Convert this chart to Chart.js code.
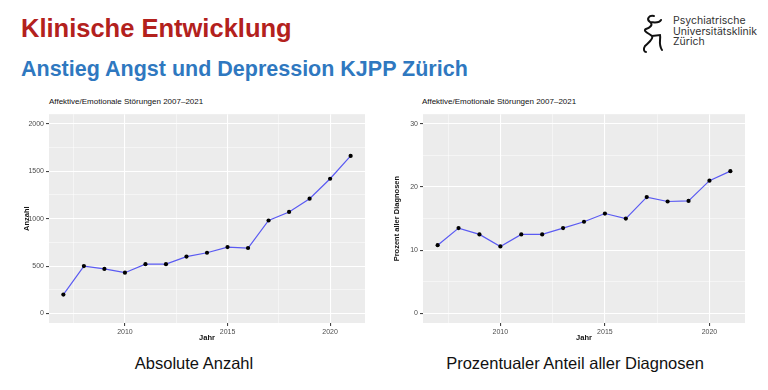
<!DOCTYPE html>
<html>
<head>
<meta charset="utf-8">
<script src="https://cdn.jsdelivr.net/npm/chart.js@4"></script>
<style>
  html, body { margin: 0; padding: 0; background: #fff; }
  body { width: 768px; height: 390px; position: relative; overflow: hidden; font-family: "Liberation Sans", Arial, sans-serif; }
  .abs { position: absolute; white-space: nowrap; }
  #title { left: 21px; top: 14px; font-size: 25.5px; font-weight: bold; color: #b3211d; }
  #subtitle { left: 21px; top: 57px; font-size: 21.5px; font-weight: bold; color: #2f78c0; }
  #logoText { left: 673px; top: 16px; font-size: 10.5px; line-height: 10.5px; color: #333; font-family: "Inter", "Liberation Sans", sans-serif; }
  .ptitle { font-size: 8px; color: #111; top: 97px; }
  .caption { font-size: 16.5px; color: #111; top: 354px; transform: translateX(-50%); }
  .box { position: absolute; }
</style>
</head>
<body>
<div class="abs" id="title">Klinische Entwicklung</div>
<div class="abs" id="subtitle">Anstieg Angst und Depression KJPP Zürich</div>
<svg class="abs" style="left:640px;top:14px" width="26" height="40" viewBox="0 0 26 40">
  <path d="M14 2 C9 1 6 5 10 8 C14 11 9 14 6 15 C2 17 10 20 12 22 C14 25 8 29 5 32 C3 35 4 38 6 38 M10 8 C16 9 20 8 21 6 M12 22 L20 21 C21 25 18 30 22 36" fill="none" stroke="#111" stroke-width="2" stroke-linecap="round"/>
</svg>
<div class="abs" id="logoText">Psychiatrische<br>Universitätsklinik<br>Zürich</div>

<div class="abs ptitle" style="left:49px">Affektive/Emotionale Störungen 2007–2021</div>
<div class="abs ptitle" style="left:422px">Affektive/Emotionale Störungen 2007–2021</div>

<div class="box" style="left:20px;top:108px;width:350px;height:234px"><canvas id="chartCount"></canvas></div>
<div class="box" style="left:390px;top:108px;width:365px;height:234px"><canvas id="chartPercent"></canvas></div>

<div class="abs caption" style="left:194px">Absolute Anzahl</div>
<div class="abs caption" style="left:575px">Prozentualer Anteil aller Diagnosen</div>

<script>
const years = [2007, 2008, 2009, 2010, 2011, 2012, 2013, 2014, 2015, 2016, 2017, 2018, 2019, 2020, 2021]
const counts = [200, 500, 470, 430, 520, 520, 600, 640, 700, 690, 980, 1070, 1210, 1420, 1660]
const percents = [10.8, 13.5, 12.5, 10.6, 12.5, 12.5, 13.5, 14.5, 15.8, 15.0, 18.4, 17.7, 17.8, 21.0, 22.5]

const yearTicks = [2010, 2015, 2020]
const yearMinor = [2007.5, 2012.5, 2017.5]
const countTicks = [0, 500, 1000, 1500, 2000]
const countMinor = [250, 750, 1250, 1750]
const percentTicks = [0, 10, 20, 30]
const percentMinor = [5, 15, 25]

const panelBg = {
  id: "panelBg",
  beforeDraw(chart) {
    const { ctx, chartArea: a } = chart
    ctx.save()
    ctx.fillStyle = "#ececec"
    ctx.fillRect(a.left, a.top, a.right - a.left, a.bottom - a.top)
    ctx.restore()
  }
}

function makeChart(id, values, major, minor, yMin, yMax, yTitle, yWidth, rightPad) {
  const isMajor = (ctx) => ctx.tick && !ctx.tick.minor
  const axis = (majorTicks, minorTicks) => ({
    afterBuildTicks(scale) {
      const all = majorTicks.map(v => ({ value: v, minor: false }))
        .concat(minorTicks.map(v => ({ value: v, minor: true })))
      scale.ticks = all.sort((a, b) => a.value - b.value)
    },
    border: { display: false },
    grid: {
      color: "#ffffff",
      lineWidth: (ctx) => isMajor(ctx) ? 1.1 : 0.5,
      tickColor: (ctx) => isMajor(ctx) ? "#444" : "rgba(0,0,0,0)",
      tickLength: 3
    },
    ticks: {
      autoSkip: false,
      maxRotation: 0,
      padding: 2,
      color: "#4d4d4d",
      font: { family: "Liberation Sans", size: 7 },
      callback: function(v, i, ticks) { return ticks[i].minor ? "" : String(v) }
    }
  })

  const x = axis(yearTicks, yearMinor)
  x.type = "linear"
  x.min = 2006.3
  x.max = 2021.7
  x.title = { display: true, text: "Jahr", color: "#111", font: { family: "Liberation Sans", size: 7.5, weight: "bold" }, padding: 0 }
  x.afterFit = (scale) => { scale.height = 19 }

  const y = axis(major, minor)
  y.min = yMin
  y.max = yMax
  y.title = { display: true, text: yTitle, color: "#111", font: { family: "Liberation Sans", size: 7.5, weight: "bold" }, padding: { top: 0, bottom: 2 } }
  y.afterFit = (scale) => { scale.width = yWidth }

  return new Chart(document.getElementById(id), {
    type: "line",
    data: {
      datasets: [{
        data: years.map((yr, i) => ({ x: yr, y: values[i] })),
        borderColor: "#5a5af2",
        borderWidth: 1.2,
        pointRadius: 2.1,
        pointBackgroundColor: "#000",
        pointBorderWidth: 0,
        tension: 0
      }]
    },
    options: {
      responsive: true,
      maintainAspectRatio: false,
      animation: false,
      layout: { padding: { top: 2, right: rightPad, bottom: 0, left: 2 } },
      plugins: { legend: { display: false }, tooltip: { enabled: false } },
      scales: { x: x, y: y }
    },
    plugins: [panelBg]
  })
}

makeChart("chartCount", counts, countTicks, countMinor, -100, 2100, "Anzahl", 27, 5)
makeChart("chartPercent", percents, percentTicks, percentMinor, -1.5, 31.5, "Prozent aller Diagnosen", 31, 10)
</script>
</body>
</html>
